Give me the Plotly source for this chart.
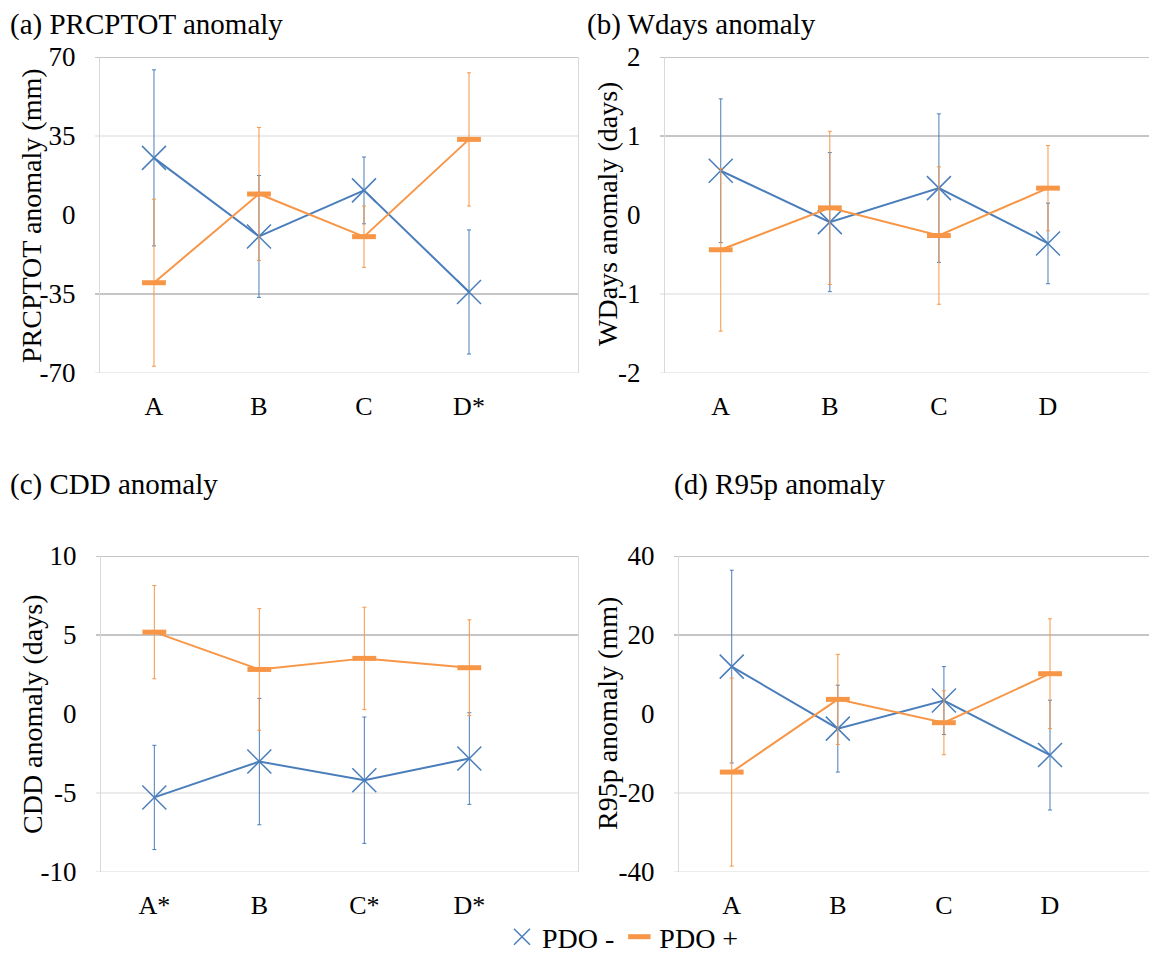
import plotly.graph_objects as go

# ---------------- data ----------------
cats_a = ["A", "B", "C", "D*"]
cats_b = ["A", "B", "C", "D"]
cats_c = ["A*", "B", "C*", "D*"]
cats_d = ["A", "B", "C", "D"]

# (a) PRCPTOT anomaly (mm)
prcptot_neg = [25.3, -9.5, 10.9, -34.1]
prcptot_neg_err = [39.0, 27.0, 14.8, 27.5]
prcptot_pos = [-30.0, 9.3, -9.6, 33.5]
prcptot_pos_err = [37.0, 29.5, 13.6, 29.5]

# (b) Wdays anomaly (days)
wdays_neg = [0.56, -0.09, 0.34, -0.36]
wdays_neg_err = [0.91, 0.88, 0.94, 0.51]
wdays_pos = [-0.44, 0.09, -0.26, 0.34]
wdays_pos_err = [1.03, 0.97, 0.87, 0.54]

# (c) CDD anomaly (days)
cdd_neg = [-5.28, -3.01, -4.19, -2.82]
cdd_neg_err = [3.3, 4.0, 4.0, 2.9]
cdd_pos = [5.18, 2.82, 3.52, 2.93]
cdd_pos_err = [2.95, 3.85, 3.24, 3.03]

# (d) R95p anomaly (mm)
r95p_neg = [12.0, -3.7, 3.4, -10.4]
r95p_neg_err = [24.4, 11.0, 8.6, 13.9]
r95p_pos = [-14.7, 3.7, -2.2, 10.2]
r95p_pos_err = [23.8, 11.4, 8.1, 13.9]

ticks_a = [-70, -35, 0, 35, 70]
ticks_b = [-2, -1, 0, 1, 2]
ticks_c = [-10, -5, 0, 5, 10]
ticks_d = [-40, -20, 0, 20, 40]

titles = ["(a) PRCPTOT anomaly", "(b) Wdays anomaly", "(c) CDD anomaly", "(d) R95p anomaly"]
ytitles = ["PRCPTOT anomaly (mm)", "WDays anomaly (days)", "CDD anomaly (days)", "R95p anomaly (mm)"]
series_names = ["PDO -", "PDO +"]

# ---------------- styling / layout ----------------
W, H = 1149, 958
BLUE = "#4A7EBB"
ORANGE = "#F79646"
DARK_GRID = "#8c8c8c"
LIGHT_GRID = "#d9d9d9"
FONT = "Liberation Serif"


def px(x):
    return x / W


def py(y):
    return 1 - y / H


# panel geometry in pixels: left, right, top, bottom, x-range
panels = [
    dict(l=100, r=578, t=57, b=373, xr=[-0.514, 4.038]),
    dict(l=665, r=1149, t=57, b=373, xr=[-0.511, 3.926]),
    dict(l=101, r=578, t=556, b=872, xr=[-0.508, 4.035]),
    dict(l=679, r=1149, t=556, b=872, xr=[-0.497, 3.933]),
]
# gridline shades per tick (bottom to top); zero line is not drawn
grid_styles = [
    [LIGHT_GRID, DARK_GRID, None, LIGHT_GRID, DARK_GRID],
    [LIGHT_GRID, LIGHT_GRID, None, DARK_GRID, DARK_GRID],
    [LIGHT_GRID, LIGHT_GRID, None, DARK_GRID, DARK_GRID],
    [LIGHT_GRID, LIGHT_GRID, None, DARK_GRID, DARK_GRID],
]
title_pos = [(8, 24), (585, 24), (8, 485), (672, 485)]
ytitle_pos = [(32, 216), (607, 214), (32, 714), (607, 714)]

data = [
    (cats_a, prcptot_neg, prcptot_neg_err, prcptot_pos, prcptot_pos_err, ticks_a),
    (cats_b, wdays_neg, wdays_neg_err, wdays_pos, wdays_pos_err, ticks_b),
    (cats_c, cdd_neg, cdd_neg_err, cdd_pos, cdd_pos_err, ticks_c),
    (cats_d, r95p_neg, r95p_neg_err, r95p_pos, r95p_pos_err, ticks_d),
]

fig = go.Figure()
shapes = []
annotations = []

for i, (cats, neg, neg_err, pos, pos_err, ticks) in enumerate(data):
    n = "" if i == 0 else str(i + 1)
    xa, ya = "x" + n, "y" + n
    g = panels[i]

    fig.add_trace(go.Scatter(
        x=cats, y=neg, xaxis=xa, yaxis=ya, mode="lines+markers",
        name=series_names[0], showlegend=False,
        line=dict(color=BLUE, width=2),
        marker=dict(symbol="x-thin", size=24, line=dict(color=BLUE, width=1.5)),
        error_y=dict(type="data", array=neg_err, visible=True,
                     color=BLUE, thickness=1, width=2),
    ))
    fig.add_trace(go.Scatter(
        x=cats, y=pos, xaxis=xa, yaxis=ya, mode="lines+markers",
        name=series_names[1], showlegend=False,
        line=dict(color=ORANGE, width=2),
        marker=dict(symbol="line-ew", size=17, line=dict(color=ORANGE, width=5)),
        error_y=dict(type="data", array=pos_err, visible=True,
                     color=ORANGE, thickness=1, width=2),
    ))

    fig.layout["xaxis" + n] = dict(
        domain=[px(g["l"]), px(g["r"])], anchor=ya,
        type="category", categoryorder="array", categoryarray=cats,
        range=g["xr"], showgrid=False, zeroline=False, showline=False,
        ticks="", tickfont=dict(family=FONT, size=26, color="black"),
        ticklabelstandoff=15, automargin=False, fixedrange=True,
    )
    fig.layout["yaxis" + n] = dict(
        domain=[py(g["b"]), py(g["t"])], anchor=xa,
        range=[ticks[0], ticks[-1]], tickvals=ticks,
        ticktext=[str(t) for t in ticks],
        showgrid=False, zeroline=False,
        showline=True, linecolor=LIGHT_GRID, linewidth=1,
        mirror=(i in (0, 2)),
        ticks="", tickfont=dict(family=FONT, size=27, color="black"),
        ticklabelstandoff=18, automargin=False, fixedrange=True,
    )

    for t, col in zip(ticks, grid_styles[i]):
        if col is None:
            continue
        shapes.append(dict(
            type="line", xref=xa + " domain", yref=ya,
            x0=-5 / (g["r"] - g["l"]), x1=1, y0=t, y1=t,
            line=dict(color=col, width=1), layer="below",
        ))

    tx, ty = title_pos[i]
    annotations.append(dict(
        text=titles[i], xref="paper", yref="paper", x=px(tx), y=py(ty),
        xanchor="left", yanchor="middle", showarrow=False,
        font=dict(family=FONT, size=29, color="black"),
    ))
    ax_, ay_ = ytitle_pos[i]
    annotations.append(dict(
        text=ytitles[i], xref="paper", yref="paper", x=px(ax_), y=py(ay_),
        xanchor="center", yanchor="middle", textangle=-90, showarrow=False,
        font=dict(family=FONT, size=28, color="black"),
    ))

# legend-only entries showing the series symbols
fig.add_trace(go.Scatter(
    x=[None], y=[None], mode="markers", name=series_names[0],
    marker=dict(symbol="x-thin", size=18, line=dict(color=BLUE, width=1.5)),
))
fig.add_trace(go.Scatter(
    x=[None], y=[None], mode="markers", name=series_names[1],
    marker=dict(symbol="line-ew", size=16, line=dict(color=ORANGE, width=5)),
))

fig.update_layout(
    width=W, height=H,
    margin=dict(l=0, r=0, t=0, b=0, autoexpand=False),
    paper_bgcolor="white", plot_bgcolor="white",
    shapes=shapes, annotations=annotations,
    showlegend=True,
    legend=dict(
        orientation="h", x=px(502), y=py(912), xanchor="left", yanchor="top",
        font=dict(family=FONT, size=28, color="black"),
        itemwidth=30, itemsizing="trace", bgcolor="rgba(0,0,0,0)",
        traceorder="normal",
    ),
)

fig.write_html("out.html")
